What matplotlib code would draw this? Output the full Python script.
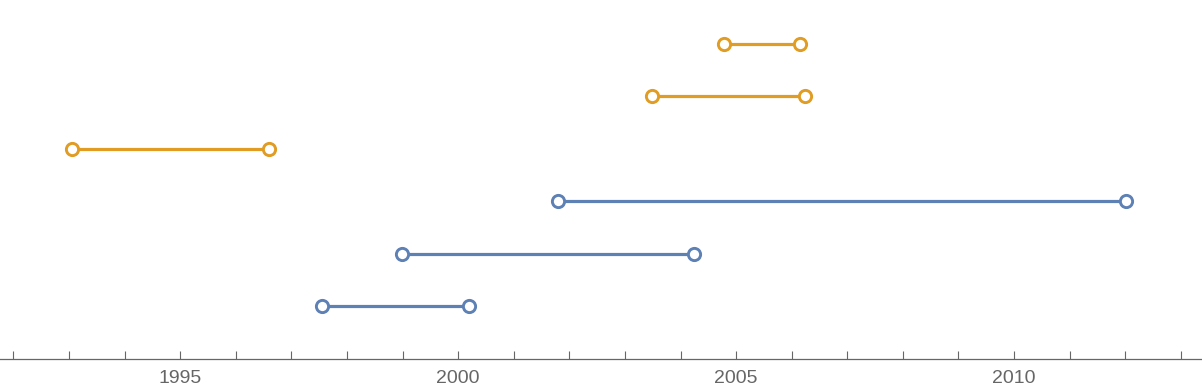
import matplotlib
matplotlib.use("Agg")
import matplotlib.pyplot as plt
from matplotlib.ticker import MultipleLocator

# Intervals (start year, end year), bottom row first
starts = [1997.55, 1998.99, 2001.80, 1993.06, 2003.49, 2004.78]
ends   = [2000.20, 2004.24, 2012.01, 1996.60, 2006.24, 2006.15]
groups = ["blue", "blue", "blue", "orange", "orange", "orange"]
major_years = [1995, 2000, 2005, 2010]

colors = {"blue": "#5E81B5", "orange": "#E19C24"}

fig = plt.figure(figsize=(12.02, 3.91), dpi=100)
ax = fig.add_axes([0, 32/391, 1, 359/391])

for i, (s, e, g) in enumerate(zip(starts, ends, groups)):
    y = i + 1
    c = colors[g]
    ax.plot([s, e], [y, y], color=c, lw=2.3, solid_capstyle="butt", zorder=2)
    ax.plot([s, e], [y, y], ls="none", marker="o", ms=8.8, mew=2.1,
            mfc="white", mec=c, zorder=3)

ax.set_xlim(1991.76, 2013.38)
ax.set_ylim(-0.011, 6.84)
for sp in ["top", "left", "right"]:
    ax.spines[sp].set_visible(False)
ax.spines["bottom"].set_color("#666666")
ax.spines["bottom"].set_linewidth(0.9)
ax.set_yticks([])
ax.set_xticks(major_years)
ax.set_xticklabels([str(y) for y in major_years], family="Liberation Sans")
ax.xaxis.set_minor_locator(MultipleLocator(1))
ax.tick_params(axis="x", which="both", direction="in", length=6, width=0.8,
               color="#666666", labelcolor="#666666", labelsize=14, pad=8)
ax.patch.set_alpha(0)

fig.savefig("out.png", dpi=100)
